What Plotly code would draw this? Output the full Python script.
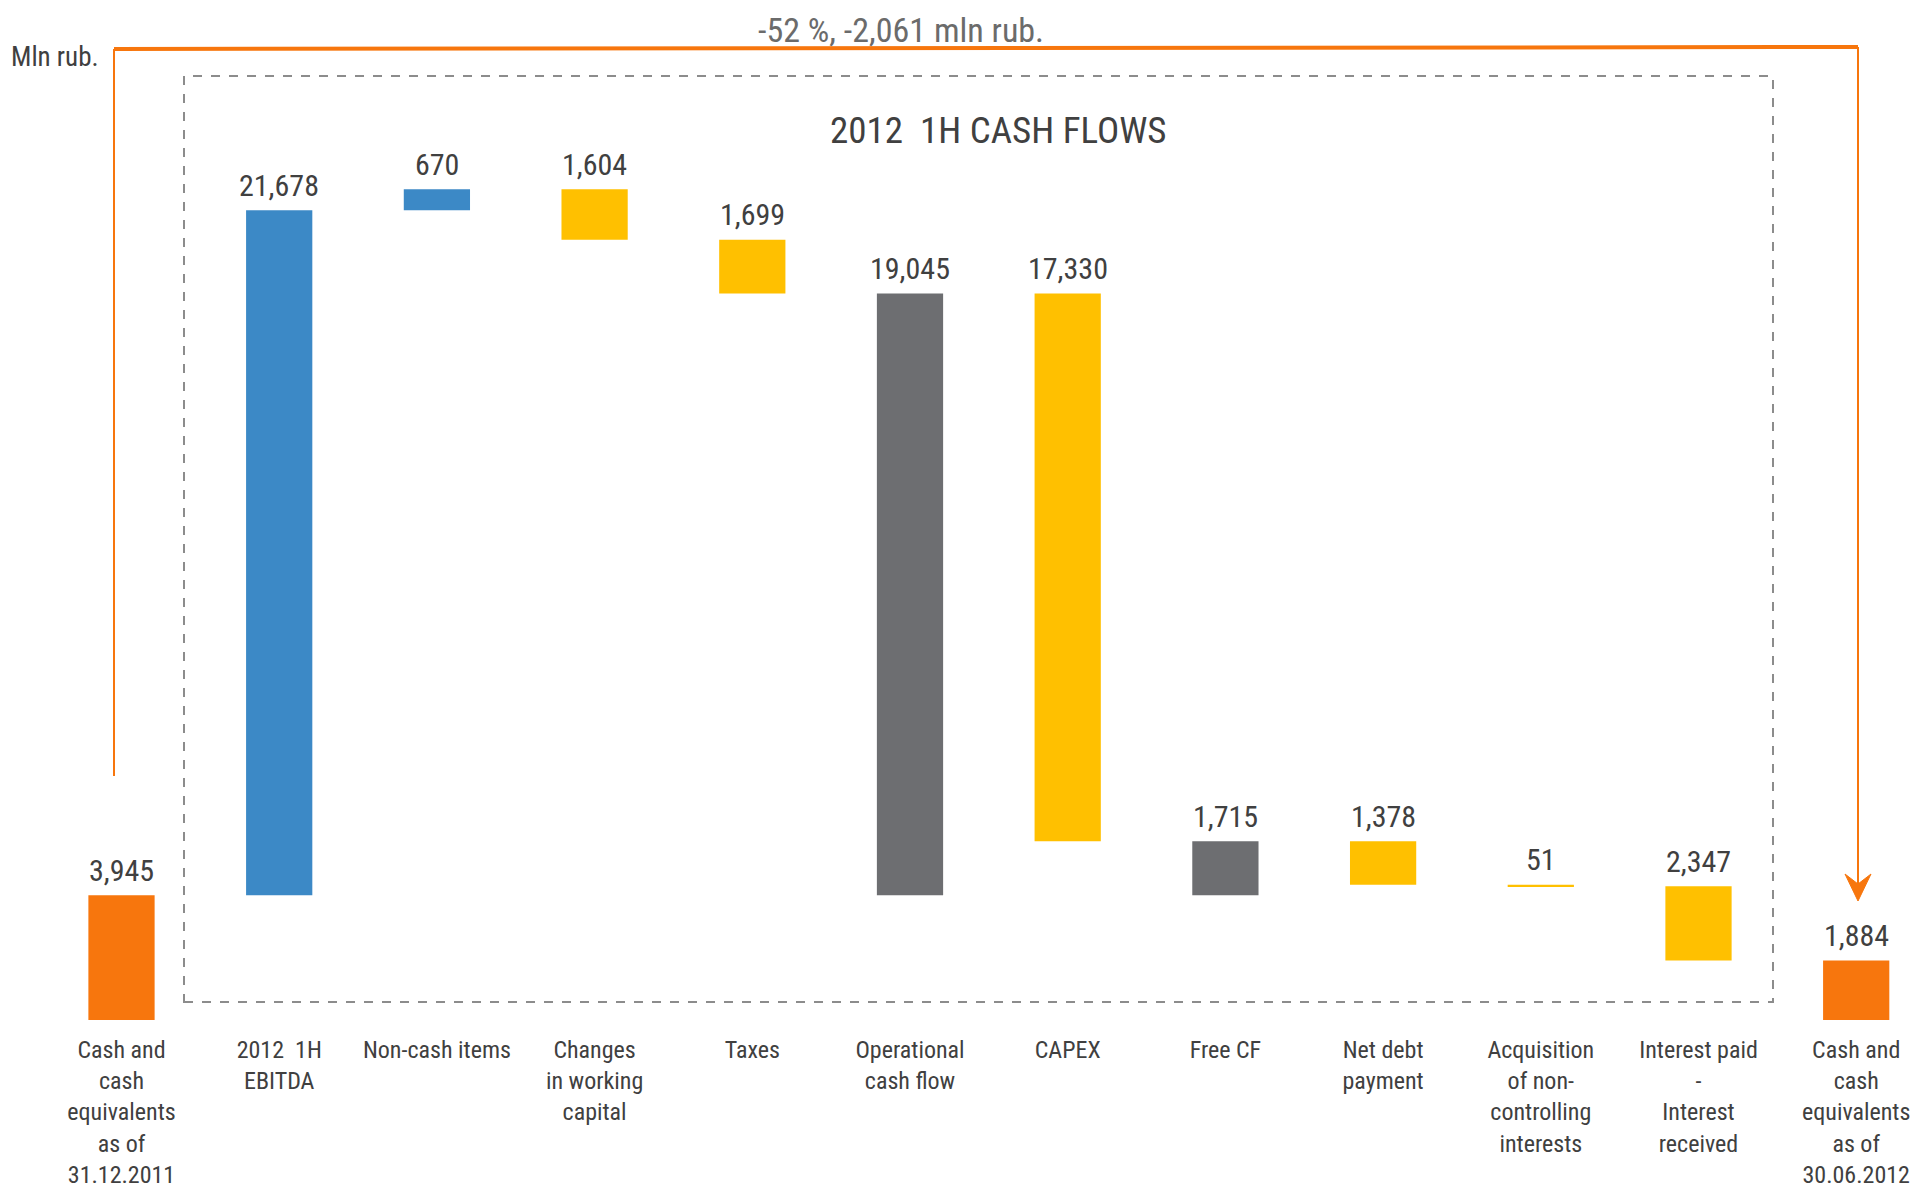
import plotly.graph_objects as go

# chart data (mln rub.)
categories = [
    "Cash and<br>cash<br>equivalents<br>as of<br>31.12.2011",
    "2012  1H<br>EBITDA",
    "Non-cash items",
    "Changes<br>in working<br>capital",
    "Taxes",
    "Operational<br>cash flow",
    "CAPEX",
    "Free CF",
    "Net debt<br>payment",
    "Acquisition<br>of non-<br>controlling<br>interests",
    "Interest paid<br>-<br>Interest<br>received",
    "Cash and<br>cash<br>equivalents<br>as of<br>30.06.2012",
]
values = [3945, 21678, 670, -1604, -1699, 19045, -17330, 1715, -1378, -51, -2347, 1884]
measures = ["absolute", "relative", "relative", "relative", "relative", "subtotal",
            "relative", "subtotal", "relative", "relative", "relative", "absolute"]
kinds = ["cash", "inflow", "inflow", "outflow", "outflow", "subtotal",
         "outflow", "subtotal", "outflow", "outflow", "outflow", "cash"]
value_labels = ["3,945", "21,678", "670", "1,604", "1,699", "19,045",
                "17,330", "1,715", "1,378", "51", "2,347", "1,884"]
change_label = "-52 %, -2,061 mln rub."
chart_title = "2012  1H CASH FLOWS"
unit_label = "Mln rub."

COLORS = {
    "cash": "#F7760D",
    "inflow": "#3C89C6",
    "outflow": "#FFC000",
    "subtotal": "#6D6E71",
}
FONT = "Liberation Sans Narrow, Noto Sans Condensed, Roboto Condensed, Arial Narrow, Roboto, sans-serif"
TEXT = "#404040"

# floating bar geometry from the running total
bases, heights, tops = [], [], []
opening = None
running = 0
for v, m in zip(values, measures):
    if m == "absolute":
        start, end = 0, v
        if opening is None:
            opening = v
    elif m == "subtotal":
        start, end = opening, opening + v
    else:
        start, end = running, running + v
    running = end
    bases.append(min(start, end))
    heights.append(abs(v))
    tops.append(max(start, end))

# page has an 8px body margin; figure is sized to fill the window
OFF = 8
W, H = 1924 - OFF, 1188 - OFF
ZERO_Y = 1020            # screen px of the zero line
PLOT_H = ZERO_Y - OFF
PX_PER_1000 = 31.6
SLOT = 157.7             # px between category centres
FIRST = 121.5 - OFF      # px of first category centre


def px(x):
    return (x - OFF) / W


def py(y):
    return 1 - (y - OFF) / PLOT_H


fig = go.Figure()

fig.add_trace(go.Bar(
    x=list(range(len(categories))),
    y=heights,
    base=bases,
    width=0.42,
    marker=dict(color=[COLORS[k] for k in kinds], line=dict(width=0)),
    hoverinfo="skip",
))

x0 = -FIRST / SLOT
x1 = x0 + W / SLOT

shapes = [
    # dashed frame
    dict(type="rect", xref="paper", yref="paper",
         x0=px(184), x1=px(1773), y0=py(1002), y1=py(76),
         line=dict(color="#8C8C8C", width=2, dash="dash")),
    # orange connector
    dict(type="line", xref="paper", yref="paper",
         x0=px(114), x1=px(1858), y0=py(49), y1=py(47),
         line=dict(color="#F7760D", width=4)),
    dict(type="line", xref="paper", yref="paper",
         x0=px(114), x1=px(114), y0=py(49), y1=py(776),
         line=dict(color="#F7760D", width=2)),
    dict(type="line", xref="paper", yref="paper",
         x0=px(1858), x1=px(1858), y0=py(47), y1=py(884),
         line=dict(color="#F7760D", width=2)),
    dict(type="path", xref="paper", yref="paper",
         path=f"M {px(1845)} {py(874)} L {px(1858)} {py(901)} L {px(1871)} {py(874)} "
              f"L {px(1858)} {py(884)} Z",
         fillcolor="#F7760D", line=dict(color="#F7760D", width=1)),
]

annotations = [
    dict(text=chart_title, xref="paper", yref="paper", x=px(998), y=py(131),
         xanchor="center", yanchor="middle", showarrow=False,
         font=dict(family=FONT, size=37, color=TEXT)),
    dict(text=change_label, xref="paper", yref="paper", x=px(901), y=py(30),
         xanchor="center", yanchor="middle", showarrow=False,
         font=dict(family=FONT, size=34, color="#6B6B6B")),
    dict(text=unit_label, xref="paper", yref="paper", x=px(55), y=py(57),
         xanchor="center", yanchor="middle", showarrow=False,
         font=dict(family=FONT, size=27, color=TEXT)),
]

# value labels above each bar
for i, (t, lab) in enumerate(zip(tops, value_labels)):
    annotations.append(dict(
        text=lab, x=i, y=t, xref="x", yref="y",
        xanchor="center", yanchor="middle", yshift=25, showarrow=False,
        font=dict(family=FONT, size=30, color=TEXT),
    ))

fig.update_layout(
    width=W, height=H,
    margin=dict(l=0, r=0, t=0, b=H - PLOT_H),
    plot_bgcolor="white", paper_bgcolor="white",
    showlegend=False,
    shapes=shapes,
    annotations=annotations,
    xaxis=dict(
        range=[x0, x1],
        tickmode="array",
        tickvals=list(range(len(categories))),
        ticktext=categories,
        tickangle=0,
        ticks="",
        ticklabelstandoff=13,
        automargin=False,
        tickfont=dict(family=FONT, size=24, color=TEXT),
        showgrid=False, zeroline=False, showline=False,
    ),
    yaxis=dict(
        range=[0, PLOT_H / PX_PER_1000 * 1000],
        visible=False, showgrid=False, zeroline=False, automargin=False,
    ),
)

fig.write_html("out.html")
